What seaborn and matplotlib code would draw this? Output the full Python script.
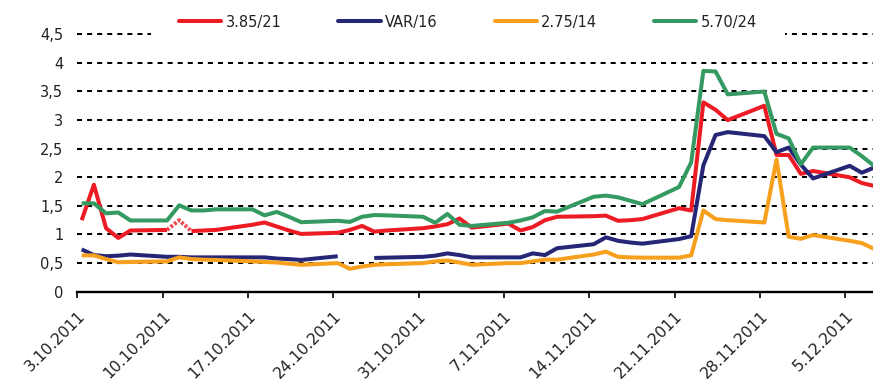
import numpy as np
import pandas as pd
import matplotlib
matplotlib.use("Agg")
import matplotlib.pyplot as plt
import matplotlib.dates as mdates
from matplotlib.lines import Line2D
from matplotlib.ticker import FuncFormatter, FixedLocator
import seaborn as sns

# Trading days, 3.10.2011 - 7.12.2011
trade_days = pd.bdate_range("2011-10-03", "2011-12-07")

series_names = ["3.85/21", "VAR/16", "2.75/14", "5.70/24"]
series_colors = ["#ED1C24", "#262676", "#F7A01E", "#349A62"]

bond_385_21 = [1.25, 1.87, 1.11, 0.94, 1.07, 1.08, 1.25, 1.06, 1.07, 1.08,
               1.17, 1.21, 1.14, 1.07, 1.01, 1.03, 1.08, 1.15, 1.05, 1.07,
               1.11, 1.14, 1.18, 1.28, 1.12, 1.19, 1.07, 1.13, 1.25, 1.31,
               1.32, 1.33, 1.24, 1.25, 1.27, 1.46, 1.42, 3.31, 3.18, 3.00,
               3.25, 2.39, 2.39, 2.06, 2.11, 2.00, 1.90, 1.85]
bond_var_16 = [0.74, 0.64, 0.62, 0.63, 0.65, 0.61, 0.61, 0.60, 0.60, 0.60,
               0.60, 0.60, 0.58, 0.57, 0.555, 0.62, np.nan, np.nan, 0.59, 0.595,
               0.61, 0.63, 0.67, 0.64, 0.60, 0.60, 0.60, 0.67, 0.64, 0.76,
               0.83, 0.95, 0.89, 0.86, 0.84, 0.92, 0.97, 2.21, 2.74, 2.79,
               2.72, 2.44, 2.52, 2.22, 1.98, 2.20, 2.08, 2.17]
bond_275_14 = [0.635, 0.635, 0.57, 0.515, 0.52, 0.53, 0.60, 0.57, 0.56, 0.555,
               0.53, 0.52, 0.51, 0.49, 0.47, 0.50, 0.40, 0.44, 0.47, 0.48,
               0.50, 0.53, 0.545, 0.51, 0.47, 0.50, 0.50, 0.53, 0.56, 0.56,
               0.65, 0.70, 0.61, 0.60, 0.595, 0.595, 0.635, 1.42, 1.27, 1.25,
               1.21, 2.31, 0.96, 0.925, 0.99, 0.89, 0.85, 0.75]
bond_570_24 = [1.545, 1.545, 1.37, 1.385, 1.245, 1.245, 1.51, 1.42, 1.42, 1.44,
               1.44, 1.335, 1.395, 1.31, 1.215, 1.24, 1.22, 1.31, 1.34, 1.335,
               1.31, 1.205, 1.36, 1.17, 1.15, 1.205, 1.245, 1.30, 1.41, 1.40,
               1.66, 1.68, 1.65, 1.59, 1.53, 1.83, 2.26, 3.86, 3.85, 3.45,
               3.50, 2.76, 2.68, 2.23, 2.52, 2.52, 2.37, 2.20]

# the 3.85/21 quote of 11.10. is an estimate: drawn dotted
estimated_day = pd.Timestamp("2011-10-11")

y_ticks = [0, 0.5, 1, 1.5, 2, 2.5, 3, 3.5, 4, 4.5]
x_tick_days = pd.date_range("2011-10-03", "2011-12-05", freq="7D")

# each quote sits inside its own day slot on the date axis
day_offset = 0.36
xnum = mdates.date2num(trade_days.to_pydatetime()) + day_offset
est_idx = list(trade_days).index(estimated_day)

values = [bond_385_21, bond_var_16, bond_275_14, bond_570_24]
frames = []
for name, vals in zip(series_names, values):
    y = np.array(vals, dtype=float)
    if name == "3.85/21":
        y = y.copy()
        y[est_idx] = np.nan
    unit = np.cumsum(np.isnan(y))
    df = pd.DataFrame({"x": xnum, "value": y, "series": name, "unit": unit})
    frames.append(df.dropna())
long_df = pd.concat(frames, ignore_index=True)

red = np.array(bond_385_21, dtype=float)
est_df = pd.DataFrame({"x": xnum[est_idx - 1:est_idx + 2],
                       "value": red[est_idx - 1:est_idx + 2]})

sns.set_style("white")
plt.rcParams["font.family"] = ["DejaVu Sans"]

W, H = 873, 385
fig = plt.figure(figsize=(W / 100, H / 100), dpi=100)
y0_px, unit_px = 291.7, 57.2
top_val = 4.53
ax = fig.add_axes([77.3 / W, (H - y0_px) / H, (W - 77.3) / W, unit_px * top_val / H])

palette = dict(zip(series_names, series_colors))
sns.lineplot(data=long_df, x="x", y="value", hue="series", units="unit",
             estimator=None, sort=False, hue_order=series_names,
             palette=palette, linewidth=2.9, legend=False, ax=ax,
             solid_joinstyle="round", solid_capstyle="butt", zorder=3)
sns.lineplot(data=est_df, x="x", y="value", color="#F04A50",
             linewidth=2.9, linestyle=(0, (0.7, 0.45)), estimator=None,
             sort=False, legend=False, ax=ax, zorder=3)

t0 = mdates.date2num(pd.Timestamp("2011-10-03").to_pydatetime())
ax.set_xlim(t0, t0 + (W - 77.3) / 12.19)
ax.set_ylim(0, top_val)

ax.xaxis.set_major_locator(FixedLocator(mdates.date2num(x_tick_days.to_pydatetime())))
ax.xaxis.set_major_formatter(FuncFormatter(
    lambda v, p: (lambda d: f"{d.day}.{d.month}.{d.year}")(mdates.num2date(v))))
ax.set_yticks(y_ticks)
ax.yaxis.set_major_formatter(FuncFormatter(lambda v, p: f"{v:g}".replace(".", ",")))

ax.set_xlabel("")
ax.set_ylabel("")
for s in ["left", "top", "right"]:
    ax.spines[s].set_visible(False)
ax.spines["bottom"].set_color("black")
ax.spines["bottom"].set_linewidth(1.7)

ax.yaxis.grid(True, color="black", linestyle=(0, (2.5, 2.5)), linewidth=1.45)
ax.xaxis.grid(False)
ax.set_axisbelow(True)

ax.tick_params(axis="y", length=0, pad=10, labelsize=10.5, labelcolor="#222222")
ax.tick_params(axis="x", direction="out", length=4, width=1.2, color="black",
               pad=8, labelsize=11.2, labelcolor="#222222", bottom=True)
for lab in ax.get_xticklabels():
    lab.set_rotation(45)
    lab.set_ha("right")
    lab.set_va("top")
    lab.set_rotation_mode("anchor")

handles = [Line2D([], [], color=c, linewidth=2.9) for c in series_colors]
leg = ax.legend(handles, series_names, loc="center",
                bbox_to_anchor=(468 / W, 1 - 22 / H), bbox_transform=fig.transFigure,
                ncol=4, frameon=True, fancybox=False, framealpha=1,
                facecolor="white", edgecolor="none", handlelength=2.9,
                handletextpad=0.3, columnspacing=3.9, borderpad=1.9,
                fontsize=10.5)
for t in leg.get_texts():
    t.set_color("#222222")

fig.savefig("out.png", dpi=100)
